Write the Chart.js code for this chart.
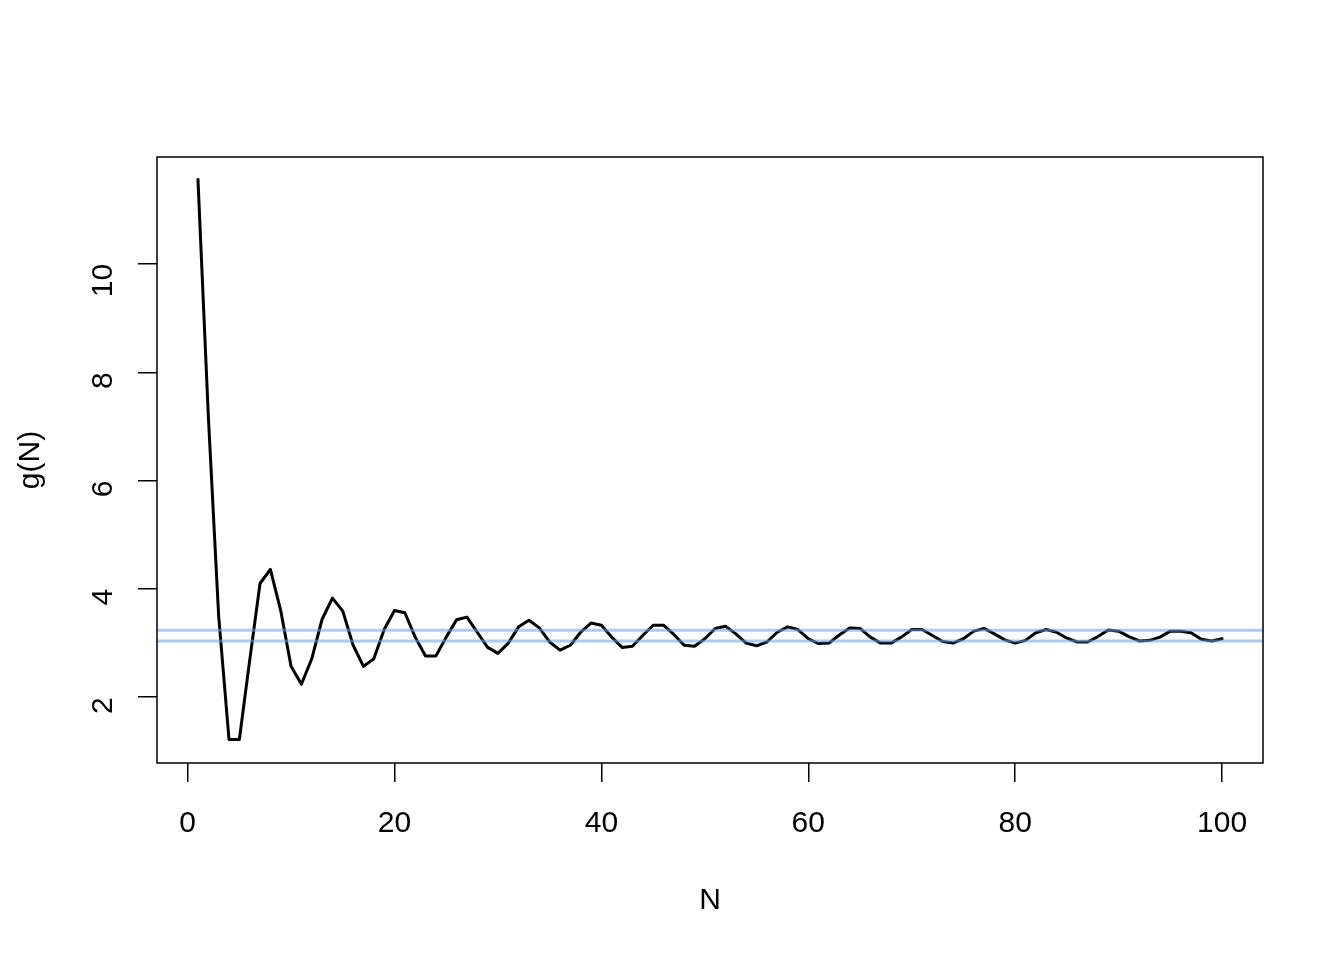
<!DOCTYPE html>
<html>
<head>
<meta charset="utf-8">
<script src="https://cdn.jsdelivr.net/npm/chart.js@4/dist/chart.umd.min.js"></script>
<style>
  html, body { margin: 0; padding: 0; background: #fff; }
  canvas { display: block; }
</style>
</head>
<body>
<canvas id="gChart" width="1344" height="960"></canvas>
<script>
// N = 1..100
const nValues = [
  1, 2, 3, 4, 5, 6, 7, 8, 9, 10, 11, 12, 13, 14, 15, 16, 17, 18, 19, 20,
  21, 22, 23, 24, 25, 26, 27, 28, 29, 30, 31, 32, 33, 34, 35, 36, 37, 38, 39, 40,
  41, 42, 43, 44, 45, 46, 47, 48, 49, 50, 51, 52, 53, 54, 55, 56, 57, 58, 59, 60,
  61, 62, 63, 64, 65, 66, 67, 68, 69, 70, 71, 72, 73, 74, 75, 76, 77, 78, 79, 80,
  81, 82, 83, 84, 85, 86, 87, 88, 89, 90, 91, 92, 93, 94, 95, 96, 97, 98, 99, 100
];
// g(N)
const gValues = [
  11.56, 7.20, 3.50, 1.22, 1.22, 2.68, 4.10, 4.36, 3.60, 2.57,
  2.24, 2.71, 3.44, 3.83, 3.59, 2.96, 2.57, 2.71, 3.25, 3.60,
  3.56, 3.11, 2.76, 2.76, 3.11, 3.43, 3.48, 3.20, 2.92, 2.81,
  3.00, 3.30, 3.42, 3.28, 3.02, 2.87, 2.96, 3.20, 3.37, 3.33,
  3.11, 2.92, 2.94, 3.14, 3.33, 3.33, 3.16, 2.96, 2.94, 3.08,
  3.27, 3.31, 3.17, 3.00, 2.95, 3.02, 3.20, 3.30, 3.25, 3.08,
  2.99, 3.00, 3.15, 3.28, 3.27, 3.11, 3.00, 3.00, 3.11, 3.25,
  3.25, 3.14, 3.03, 3.00, 3.08, 3.22, 3.27, 3.17, 3.06, 3.00,
  3.05, 3.19, 3.25, 3.20, 3.09, 3.02, 3.02, 3.12, 3.24, 3.22,
  3.12, 3.04, 3.05, 3.11, 3.22, 3.22, 3.19, 3.07, 3.04, 3.08
];
// horizontal reference lines
const refLines = [3.04, 3.235];

const xTicks = [0, 20, 40, 60, 80, 100];
const yTicks = [2, 4, 6, 8, 10];

const xMin = -2.96, xMax = 103.96;
const yMin = 0.786, yMax = 11.974;

const fontFamily = '"Liberation Sans", Arial, sans-serif';

const seriesData = nValues.map((n, i) => ({ x: n, y: gValues[i] }));

// R-style box around the plot region
const boxPlugin = {
  id: 'box',
  afterDraw(chart) {
    const a = chart.chartArea;
    const ctx = chart.ctx;
    ctx.save();
    ctx.strokeStyle = '#000';
    ctx.lineWidth = 1.5;
    ctx.strokeRect(a.left, a.top, a.right - a.left, a.bottom - a.top);
    ctx.restore();
  }
};

const refSets = refLines.map(v => ({
  data: [{ x: xMin, y: v }, { x: xMax, y: v }],
  borderColor: 'rgba(95, 160, 245, 0.55)',
  borderWidth: 3,
  pointRadius: 0,
  order: 0
}));

new Chart(document.getElementById('gChart').getContext('2d'), {
  type: 'line',
  data: {
    datasets: [
      ...refSets,
      {
        data: seriesData,
        borderColor: '#000',
        borderWidth: 3,
        borderJoinStyle: 'round',
        borderCapStyle: 'round',
        pointRadius: 0,
        order: 1
      }
    ]
  },
  options: {
    responsive: false,
    animation: false,
    layout: { padding: { top: 157, right: 81, left: 0, bottom: 0 } },
    plugins: {
      legend: { display: false },
      tooltip: { enabled: false }
    },
    scales: {
      x: {
        type: 'linear',
        min: xMin,
        max: xMax,
        afterBuildTicks: s => { s.ticks = xTicks.map(v => ({ value: v })); },
        afterFit: s => { s.height = 197; },
        border: { display: false },
        grid: { drawOnChartArea: false, drawTicks: true, tickLength: 19, color: '#000', lineWidth: 1.5 },
        ticks: { color: '#000', font: { family: fontFamily, size: 30 }, padding: 24, maxRotation: 0 },
        title: { display: true, text: 'N', color: '#000', font: { family: fontFamily, size: 30 }, padding: { top: 0, bottom: 41 } }
      },
      y: {
        type: 'linear',
        min: yMin,
        max: yMax,
        afterBuildTicks: s => { s.ticks = yTicks.map(v => ({ value: v })); },
        afterFit: s => { s.width = 157; },
        border: { display: false },
        grid: { drawOnChartArea: false, drawTicks: true, tickLength: 19, color: '#000', lineWidth: 1.5 },
        ticks: { color: '#000', font: { family: fontFamily, size: 30 }, padding: 34, minRotation: 90, maxRotation: 90 },
        title: { display: true, text: 'g(N)', color: '#000', font: { family: fontFamily, size: 30 }, padding: { top: 13, bottom: 0 } }
      }
    }
  },
  plugins: [boxPlugin]
});
</script>
</body>
</html>
